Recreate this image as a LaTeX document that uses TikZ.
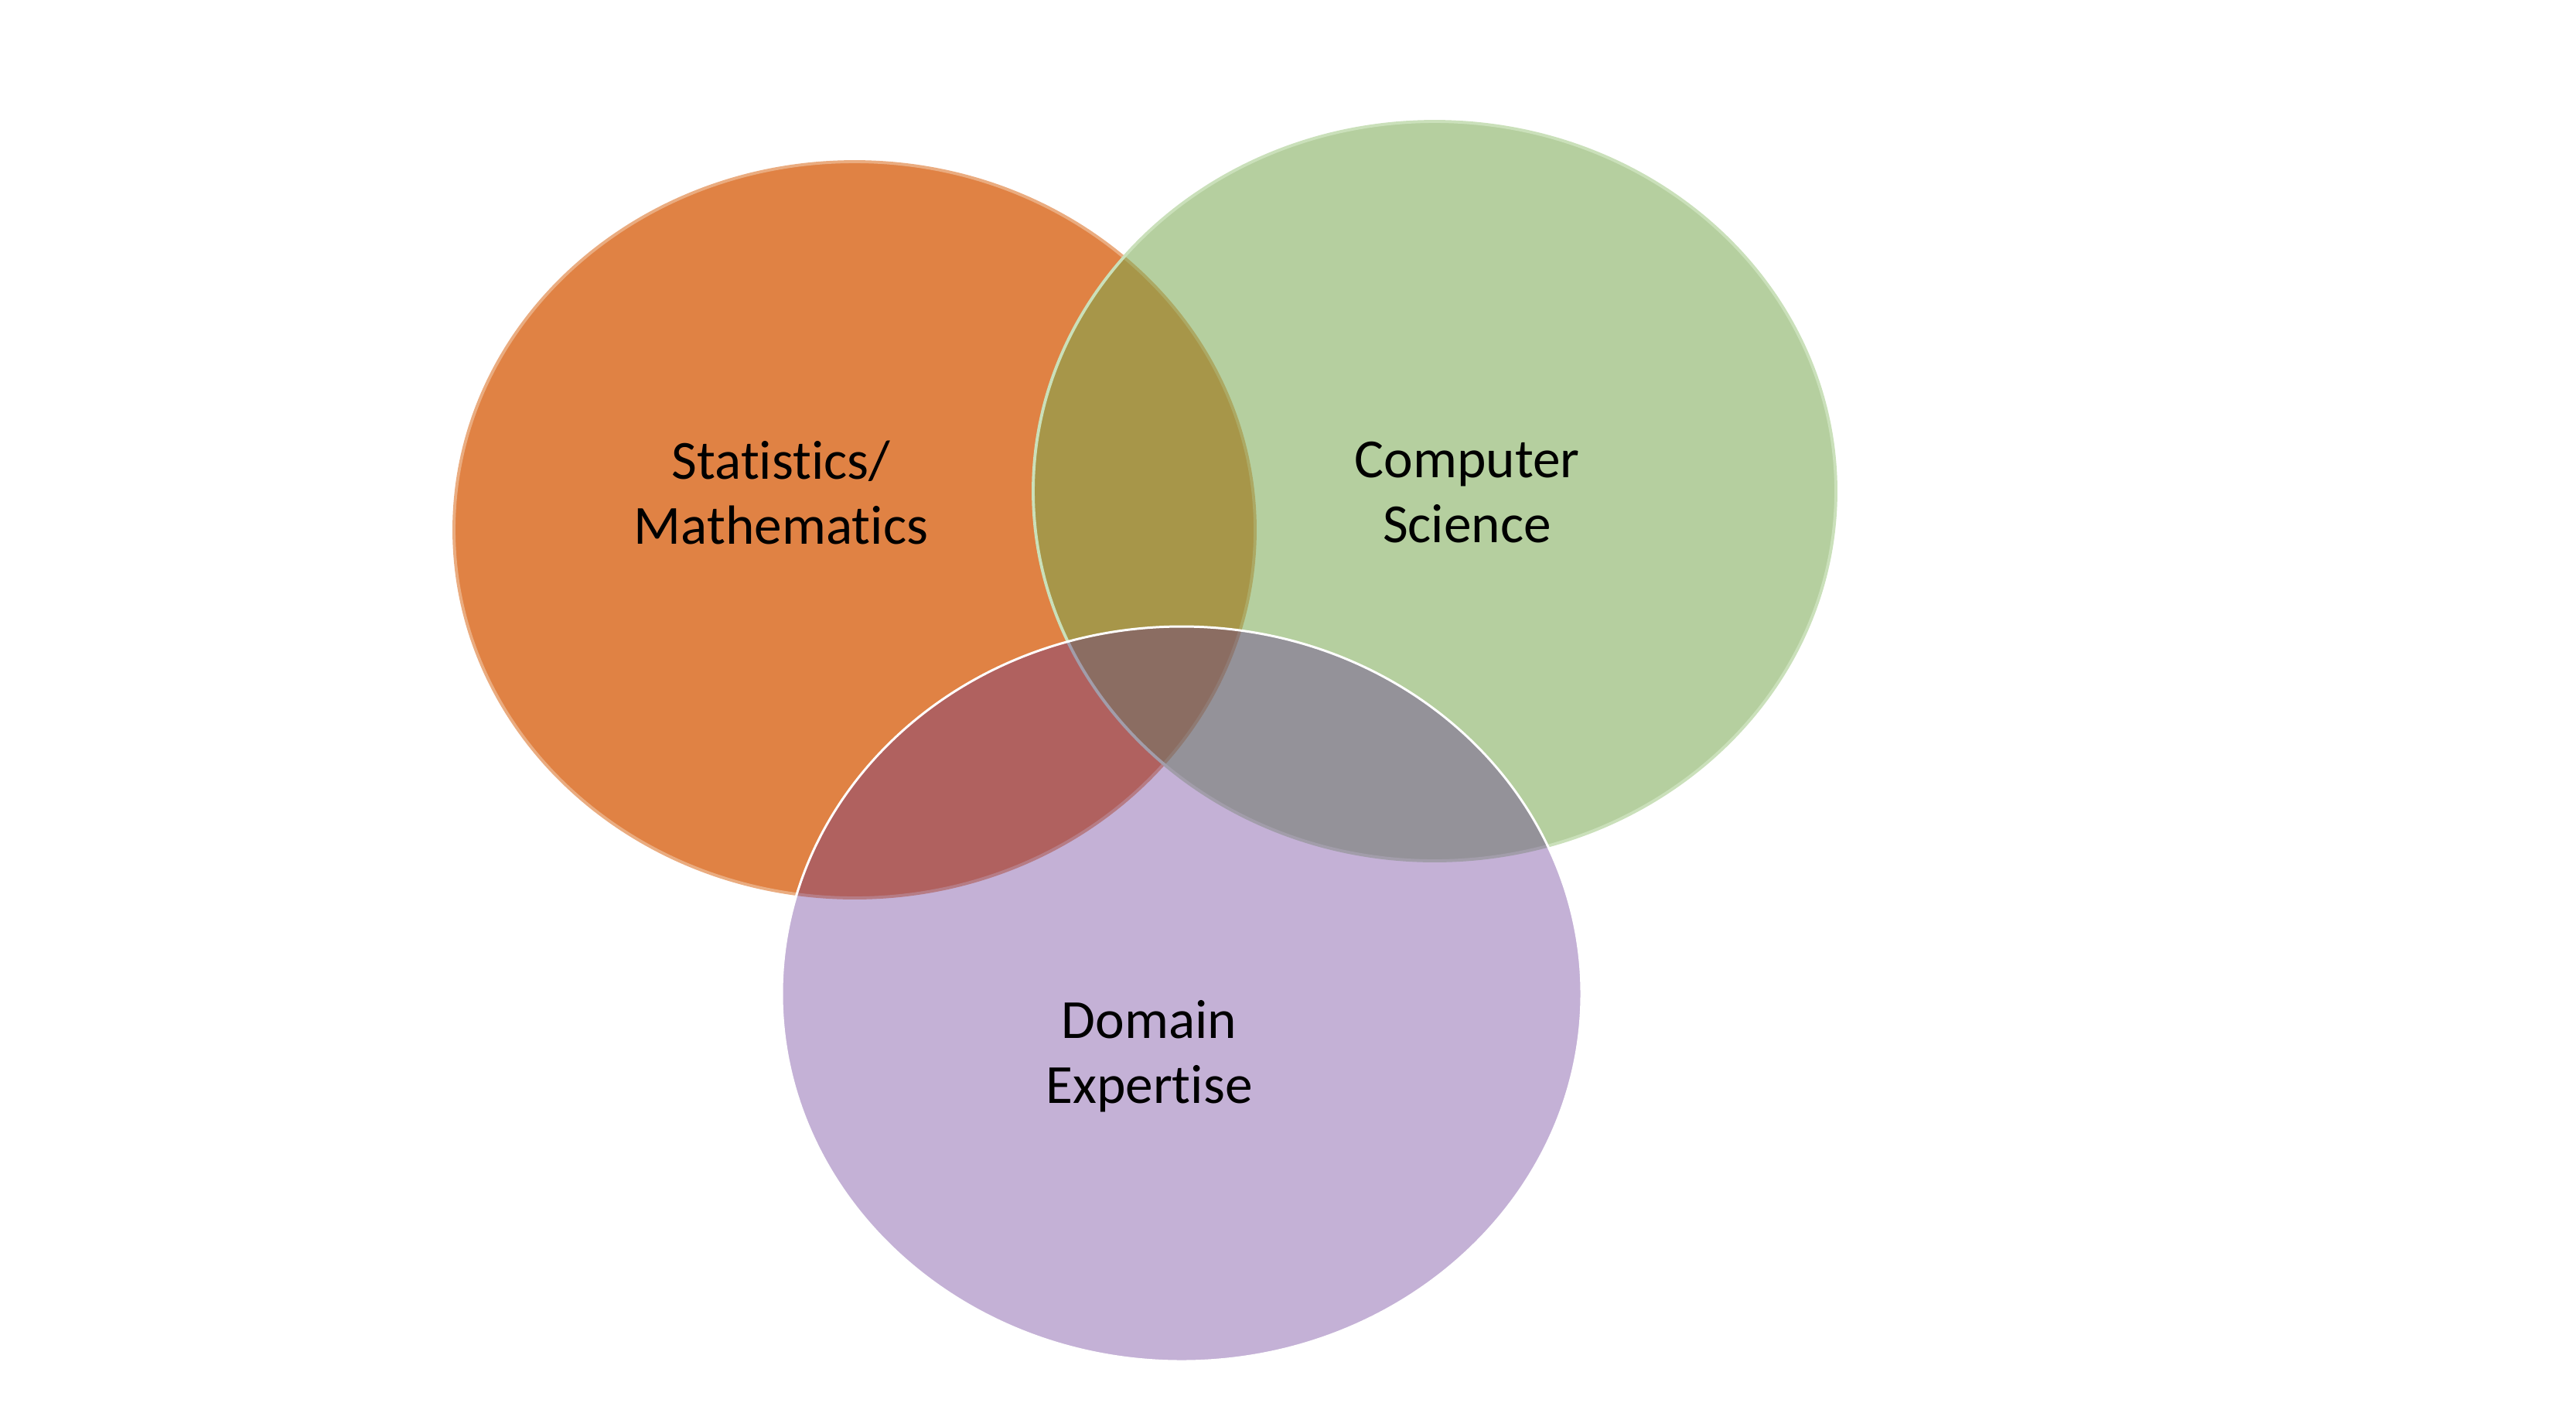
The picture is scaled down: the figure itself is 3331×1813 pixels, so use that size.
\documentclass[tikz,border=0pt]{standalone}
\usepackage{fontspec}
\setmainfont{Carlito}[Ligatures=NoCommon]
\usepackage{tikz}
\definecolor{StatFill}{RGB}{224,130,68}
\definecolor{StatEdge}{RGB}{234,172,128}
\definecolor{CompFill}{RGB}{120,168,78}
\definecolor{CompEdge}{RGB}{202,224,186}
\definecolor{DomFill}{RGB}{92,39,144}
\tikzset{every node/.style={font=\fontsize{20.3}{23.9}\selectfont,align=center,inner sep=0pt},
 blob/.style={line width=1.1pt},
 stat/.style={blob,fill=StatFill,draw=StatEdge},
 comp/.style={blob,fill=CompFill,fill opacity=.54,draw=CompEdge,draw opacity=1},
 dom/.style={line width=.85pt,fill=DomFill,fill opacity=.36,draw=white,draw opacity=1}}
\begin{document}
\begin{tikzpicture}[x=0.1mm,y=0.1mm]
\useasboundingbox[fill=white] (0,0) rectangle (3331,-1813);
% the three fields
\filldraw[stat] (1105,-685) ellipse [x radius=51.8mm,y radius=47.6mm];
\filldraw[comp] (1855,-635) ellipse [x radius=51.9mm,y radius=47.8mm];
\filldraw[dom] (1528,-1285) ellipse [x radius=51.7mm,y radius=47.5mm];
% labels
\node (statlab) at (1010,-637) {Statistics/\\Mathematics};
\node (complab) at (1897,-637) {Computer\\Science};
\node (domlab) at (1486,-1366) {Domain\\Expertise};
\end{tikzpicture}
\end{document}
